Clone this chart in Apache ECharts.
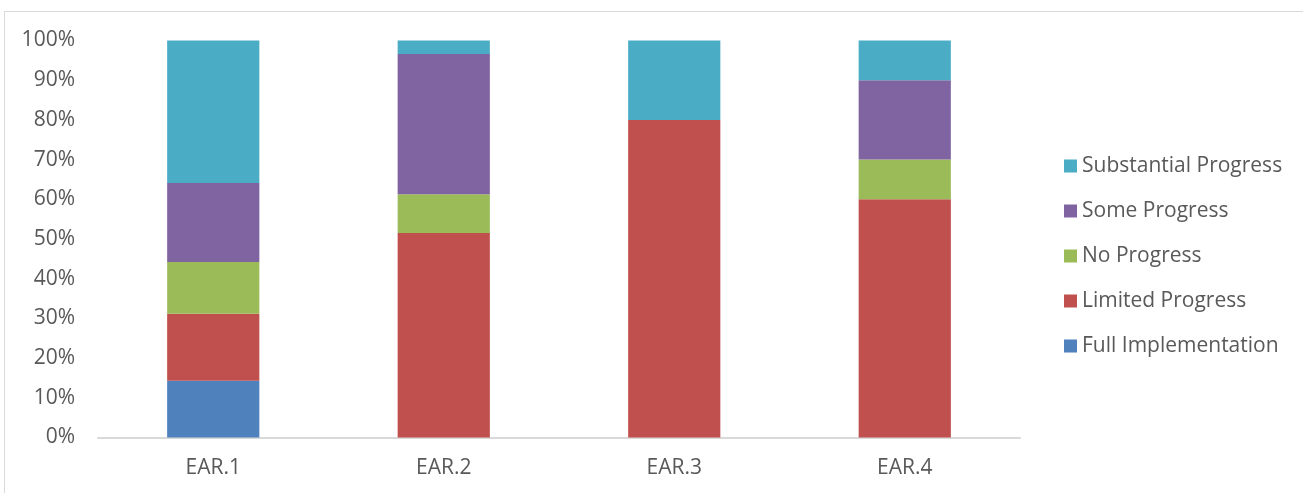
<!DOCTYPE html>
<html>
<head>
<meta charset="utf-8">
<script src="https://cdn.jsdelivr.net/npm/echarts@6/dist/echarts.min.js"></script>
<style>
  html, body { margin: 0; padding: 0; background: #fff; }
  #chart { width: 1303px; height: 493px; }
</style>
</head>
<body>
<div id="chart"></div>
<script>
// Recommendation status shares (percent of each EAR item)
const categories = ['EAR.1', 'EAR.2', 'EAR.3', 'EAR.4'];
const seriesNames = ['Full Implementation', 'Limited Progress', 'No Progress', 'Some Progress', 'Substantial Progress'];
const fullImplementation  = [14.3, 0, 0, 0];
const limitedProgress     = [16.9, 51.5, 80, 60];
const noProgress          = [13.0, 9.8, 0, 10];
const someProgress        = [19.9, 35.3, 0, 20];
const substantialProgress = [35.9, 3.4, 20, 10];
const yTicks = [0, 10, 20, 30, 40, 50, 60, 70, 80, 90, 100];

const seriesValues = [fullImplementation, limitedProgress, noProgress, someProgress, substantialProgress];
const colors = ['#4f81bd', '#c0504d', '#9bbb59', '#8064a2', '#4bacc6'];
const font = '"Open Sans", "DejaVu Sans", sans-serif';
const textColor = '#595959';
const fontSize = 21;

const chart = echarts.init(document.getElementById('chart'), null, { renderer: 'canvas' });

chart.setOption({
  animation: false,
  backgroundColor: '#ffffff',
  color: colors,
  textStyle: { fontFamily: font },
  graphic: [
    {
      type: 'polyline',
      silent: true,
      shape: { points: [[4.5, 493], [4.5, 11.5], [1303, 11.5]] },
      style: { stroke: '#d9d9d9', lineWidth: 1, fill: null }
    }
  ],
  grid: { left: 98, right: 283, top: 40.5, bottom: 55.5, containLabel: false },
  legend: {
    orient: 'vertical',
    left: 1059,
    top: 150,
    data: seriesNames.slice().reverse(),
    icon: 'rect',
    itemWidth: 13,
    itemHeight: 13,
    itemGap: 23,
    textStyle: { color: textColor, fontSize: fontSize, fontFamily: font, lineHeight: 22 }
  },
  xAxis: {
    type: 'category',
    data: categories,
    axisLine: { show: true, lineStyle: { color: '#d9d9d9', width: 2 } },
    axisTick: { show: false },
    axisLabel: { color: textColor, fontSize: fontSize, fontFamily: font, margin: 20 },
    splitLine: { show: false }
  },
  yAxis: {
    type: 'value',
    min: yTicks[0],
    max: yTicks[yTicks.length - 1],
    interval: 10,
    axisLine: { show: false },
    axisTick: { show: false },
    splitLine: { show: false },
    axisLabel: { color: textColor, fontSize: fontSize, fontFamily: font, margin: 23, formatter: v => v + '%' }
  },
  series: seriesNames.map((name, i) => ({
    name,
    type: 'bar',
    stack: 'total',
    barWidth: '40%',
    data: seriesValues[i],
    itemStyle: { color: colors[i] }
  }))
});
</script>
</body>
</html>
